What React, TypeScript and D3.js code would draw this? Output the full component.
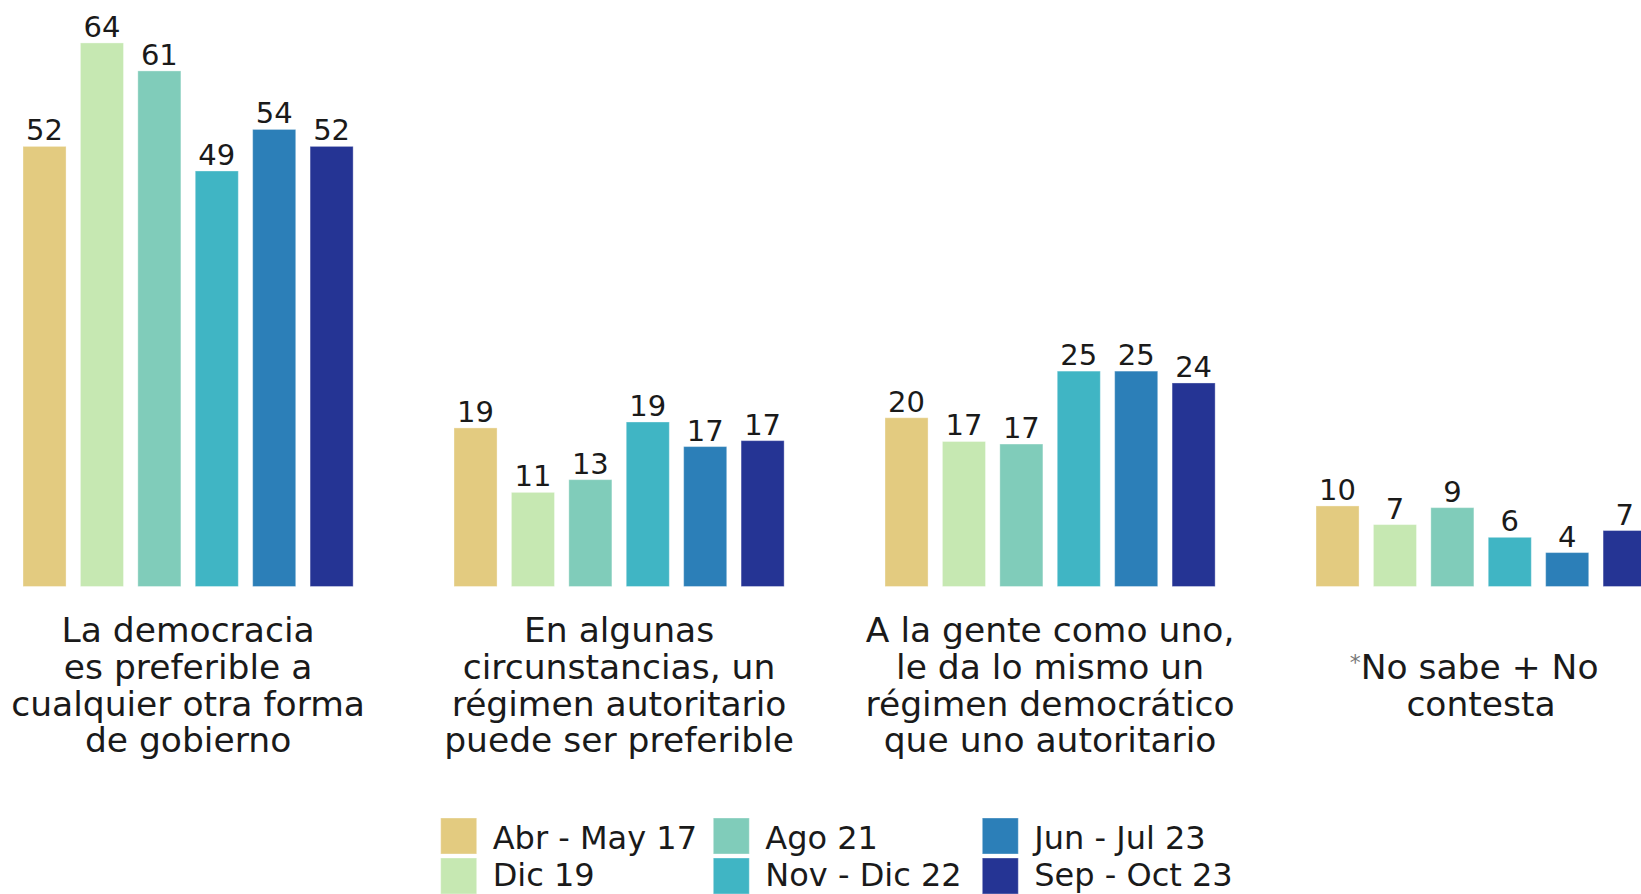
import React from "react";
import * as d3 from "d3";

const categories = ["democracia", "autoritario", "da lo mismo", "ns/nc"];
const categoryLines = [
  ["La democracia", "es preferible a", "cualquier otra forma", "de gobierno"],
  ["En algunas", "circunstancias, un", "régimen autoritario", "puede ser preferible"],
  ["A la gente como uno,", "le da lo mismo un", "régimen democrático", "que uno autoritario"],
  ["", "*No sabe + No", "contesta"],
];
const series = ["Abr - May 17", "Dic 19", "Ago 21", "Nov - Dic 22", "Jun - Jul 23", "Sep - Oct 23"];
const colors = ["#e3cb80", "#c6e8b2", "#80ccba", "#40b5c4", "#2c7fb8", "#253494"];

// one array per wave, one value per category
const abrMay17 = [51.9, 18.7, 19.9, 9.5];
const dic19 = [64.1, 11.1, 17.1, 7.3];
const ago21 = [60.8, 12.6, 16.8, 9.3];
const novDic22 = [49.0, 19.4, 25.4, 5.8];
const junJul23 = [53.9, 16.5, 25.4, 4.0];
const sepOct23 = [51.9, 17.2, 24.0, 6.6];
const values = [abrMay17, dic19, ago21, novDic22, junJul23, sepOct23];

const W = 1641;
const H = 894;
const FONT = "'DejaVu Sans', sans-serif";

function App() {
  const base = 586.5;
  const y = d3.scaleLinear().domain([0, 60]).range([base, base - 508.8]);
  const x0 = d3
    .scaleBand<string>()
    .domain(categories)
    .range([23, 23 + 431 * 3.766])
    .paddingInner(0.234)
    .paddingOuter(0);
  const x1 = d3
    .scaleBand<string>()
    .domain(series)
    .range([0, x0.bandwidth()])
    .paddingInner(0.25);

  const legendCols = [440.7, 713.3, 982.3];

  return (
    <svg
      width={W}
      height={H}
      style={{ position: "absolute", left: 0, top: 0, background: "#fff" }}
      fontFamily={FONT}
    >
      {categories.map((c, ci) => (
        <g key={c} transform={`translate(${x0(c)},0)`}>
          {series.map((s, si) => {
            const v = values[si][ci];
            const bx = x1(s)!;
            return (
              <g key={s}>
                <rect
                  x={bx}
                  y={y(v)}
                  width={x1.bandwidth()}
                  height={base - y(v)}
                  fill={colors[si]}
                  stroke="#ffffff"
                  strokeOpacity={0.35}
                  strokeWidth={1}
                />
                <text
                  x={bx + x1.bandwidth() / 2}
                  y={y(v) - 6}
                  textAnchor="middle"
                  fontSize={29}
                  fill="#1a1a1a"
                >
                  {Math.round(v)}
                </text>
              </g>
            );
          })}
          {categoryLines[ci].map((line, li) => {
            const cx = x0.bandwidth() / 2;
            const ly = 642 + li * 36.8;
            if (!line) return null;
            if (line.startsWith("*")) {
              return (
                <text key={li} x={cx - 7} y={ly} textAnchor="middle" fontSize={34.5} fill="#1a1a1a">
                  <tspan fontSize={22} fill="#777" dy={-9}>*</tspan>
                  <tspan dy={9}>{line.slice(1)}</tspan>
                </text>
              );
            }
            return (
              <text key={li} x={cx} y={ly} textAnchor="middle" fontSize={34.5} fill="#1a1a1a">
                {line}
              </text>
            );
          })}
        </g>
      ))}
      <g>
        {series.map((s, i) => {
          const lx = legendCols[Math.floor(i / 2)];
          const row = i % 2;
          return (
            <g key={s}>
              <rect
                x={lx}
                y={818 + row * 40}
                width={36}
                height={36}
                fill={colors[i]}
                stroke="#ffffff"
                strokeOpacity={0.35}
              />
              <text x={lx + 52} y={849 + row * 37} fontSize={32} fill="#1a1a1a">
                {s}
              </text>
            </g>
          );
        })}
      </g>
    </svg>
  );
}

export default App;
